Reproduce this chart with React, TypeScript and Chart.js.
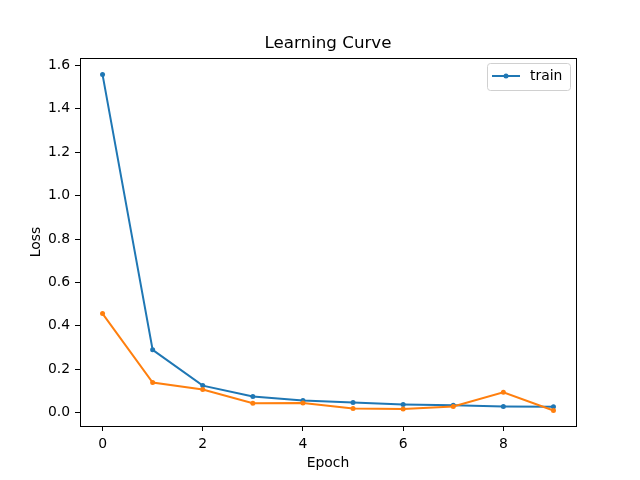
import React, { useEffect, useRef } from "react";
import { Chart, registerables } from "chart.js";

Chart.register(...registerables);

const epochs = [0, 1, 2, 3, 4, 5, 6, 7, 8, 9];
const trainLoss = [1.558, 0.289, 0.124, 0.074, 0.055, 0.046, 0.037, 0.033, 0.028, 0.027];
const valLoss = [0.456, 0.138, 0.106, 0.043, 0.044, 0.019, 0.016, 0.028, 0.093, 0.009];
const xTicks = [0, 2, 4, 6, 8];
const yTicks = [0.0, 0.2, 0.4, 0.6, 0.8, 1.0, 1.2, 1.4, 1.6];

const BLUE = "#1f77b4";
const ORANGE = "#ff7f0e";
const FONT = "'DejaVu Sans', sans-serif";

const decorPlugin = {
  id: "decor",
  afterDraw(chart: any) {
    const { ctx, chartArea } = chart;
    const { left, right, top, bottom } = chartArea;
    ctx.save();
    // frame
    ctx.strokeStyle = "#000";
    ctx.lineWidth = 1;
    const l = Math.round(left) + 0.5;
    const t = Math.round(top) + 0.5;
    const r = Math.round(right) + 0.5;
    const b = Math.round(bottom) + 0.5;
    ctx.strokeRect(l, t, r - l, b - t);
    // title
    ctx.fillStyle = "#000";
    ctx.font = `16.7px ${FONT}`;
    ctx.textAlign = "center";
    ctx.textBaseline = "middle";
    ctx.fillText("Learning Curve", (left + right) / 2, 44);
    // legend
    const bx = 487.5, by = 63.5, bw = 83, bh = 27, rr = 3;
    ctx.beginPath();
    ctx.moveTo(bx + rr, by);
    ctx.lineTo(bx + bw - rr, by);
    ctx.quadraticCurveTo(bx + bw, by, bx + bw, by + rr);
    ctx.lineTo(bx + bw, by + bh - rr);
    ctx.quadraticCurveTo(bx + bw, by + bh, bx + bw - rr, by + bh);
    ctx.lineTo(bx + rr, by + bh);
    ctx.quadraticCurveTo(bx, by + bh, bx, by + bh - rr);
    ctx.lineTo(bx, by + rr);
    ctx.quadraticCurveTo(bx, by, bx + rr, by);
    ctx.closePath();
    ctx.fillStyle = "rgba(255,255,255,0.8)";
    ctx.fill();
    ctx.strokeStyle = "#d0d0d0";
    ctx.stroke();
    const ly = 76;
    ctx.strokeStyle = BLUE;
    ctx.lineWidth = 2;
    ctx.beginPath();
    ctx.moveTo(492, ly);
    ctx.lineTo(520, ly);
    ctx.stroke();
    ctx.fillStyle = BLUE;
    ctx.beginPath();
    ctx.arc(506, ly, 2.5, 0, Math.PI * 2);
    ctx.fill();
    ctx.fillStyle = "#000";
    ctx.font = `13.9px ${FONT}`;
    ctx.textAlign = "left";
    ctx.textBaseline = "middle";
    ctx.fillText("train", 530, ly);
    ctx.restore();
  },
};

export default function App() {
  const ref = useRef<HTMLCanvasElement>(null);
  useEffect(() => {
    if (!ref.current) return;
    const chart = new Chart(ref.current, {
      type: "line",
      data: {
        datasets: [
          {
            label: "train",
            data: epochs.map((e, i) => ({ x: e, y: trainLoss[i] })),
            borderColor: BLUE,
            backgroundColor: BLUE,
            borderWidth: 2,
            pointRadius: 2.5,
            pointBorderWidth: 0,
            tension: 0,
            order: 1,
          },
          {
            label: "val",
            data: epochs.map((e, i) => ({ x: e, y: valLoss[i] })),
            borderColor: ORANGE,
            backgroundColor: ORANGE,
            borderWidth: 2,
            pointRadius: 2.5,
            pointBorderWidth: 0,
            tension: 0,
            order: 0,
          },
        ],
      },
      options: {
        animation: false,
        responsive: false,
        layout: { padding: { top: 58, right: 64, left: 0, bottom: 0 } },
        plugins: {
          legend: { display: false },
          title: { display: false },
          tooltip: { enabled: false },
        },
        scales: {
          x: {
            type: "linear",
            min: -0.45,
            max: 9.45,
            afterFit: (s: any) => {
              s.height = 54;
            },
            afterBuildTicks: (s: any) => {
              s.ticks = xTicks.map((v) => ({ value: v }));
            },
            ticks: {
              color: "#000",
              font: { family: FONT, size: 13.9 },
              padding: 5,
              maxRotation: 0,
              callback: (v: any) => String(v),
            },
            grid: {
              display: true,
              drawOnChartArea: false,
              drawTicks: true,
              tickLength: 5,
              color: "#000",
            },
            border: { display: false },
            title: {
              display: true,
              text: "Epoch",
              color: "#000",
              font: { family: FONT, size: 13.9 },
              padding: { top: 0, bottom: 8 },
            },
          },
          y: {
            type: "linear",
            min: -0.0622,
            max: 1.6346,
            afterFit: (s: any) => {
              s.width = 80;
            },
            afterBuildTicks: (s: any) => {
              s.ticks = yTicks.map((v) => ({ value: v }));
            },
            ticks: {
              color: "#000",
              font: { family: FONT, size: 13.9 },
              padding: 5,
              callback: (v: any) => Number(v).toFixed(1),
            },
            grid: {
              display: true,
              drawOnChartArea: false,
              drawTicks: true,
              tickLength: 5,
              color: "#000",
            },
            border: { display: false },
            title: {
              display: true,
              text: "Loss",
              color: "#000",
              font: { family: FONT, size: 13.9 },
              padding: { top: 28, bottom: 0 },
            },
          },
        },
      },
      plugins: [decorPlugin],
    } as any);
    return () => chart.destroy();
  }, []);
  return (
    <div style={{ position: "fixed", left: 0, top: 0, width: 640, height: 480, background: "#fff" }}>
      <canvas ref={ref} width={640} height={480} style={{ width: 640, height: 480 }} />
    </div>
  );
}
